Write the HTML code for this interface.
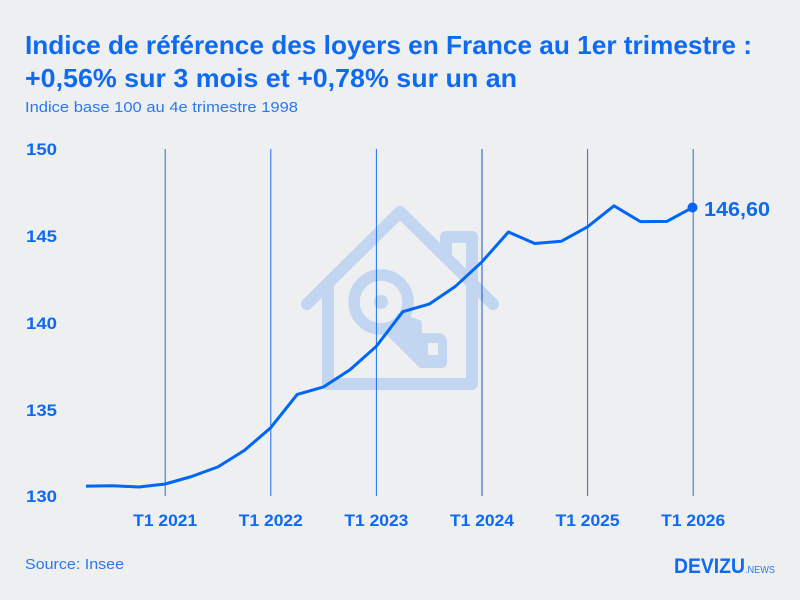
<!DOCTYPE html>
<html><head><meta charset="utf-8"><style>
html,body{margin:0;padding:0;background:#edeff1;}
svg{display:block;}
text{font-family:"Liberation Sans",sans-serif;}
</style></head><body>
<svg width="800" height="600" viewBox="0 0 800 600" xmlns="http://www.w3.org/2000/svg">
<rect width="800" height="600" fill="#edeff1"/>
<!-- title -->
<text x="25" y="54" font-size="26" font-weight="bold" fill="#0f6af2" textLength="727" lengthAdjust="spacingAndGlyphs">Indice de référence des loyers en France au 1er trimestre :</text>
<text x="25" y="87" font-size="26" font-weight="bold" fill="#0f6af2" textLength="492" lengthAdjust="spacingAndGlyphs">+0,56% sur 3 mois et +0,78% sur un an</text>
<text x="25" y="112" font-size="15" fill="#2a78ee" textLength="273" lengthAdjust="spacingAndGlyphs">Indice base 100 au 4e trimestre 1998</text>

<!-- house watermark -->
<g fill="none" stroke="#c2d6f1" stroke-width="12" stroke-linecap="round" stroke-linejoin="round">
<polyline points="307,304 400,212 493,304"/>
<polyline points="328,284 328,384 472,384 472,237 446,237 446,256"/>
<circle cx="381" cy="302" r="27" stroke-width="11.5"/>
</g>
<path d="M398 313 L420 320 Q422 321 422 324 L422 333 L437 333 Q447 333 447 343 L447 362 Q447 368 441 368 L420 368 L386 334 Z" fill="#c2d6f1"/>
<rect x="428" y="343" width="10" height="12" fill="#edeff1"/>
<circle cx="381" cy="302" r="7" fill="#c2d6f1"/>

<!-- vertical grid lines -->
<g stroke="#1a6ef0" stroke-width="1">
<line x1="165.2" y1="149" x2="165.2" y2="496"/>
<line x1="270.8" y1="149" x2="270.8" y2="496"/>
<line x1="376.4" y1="149" x2="376.4" y2="496"/>
<line x1="482" y1="149" x2="482" y2="496" stroke="#1557c8"/>
<line x1="587.6" y1="149" x2="587.6" y2="496"/>
<line x1="693.2" y1="149" x2="693.2" y2="496"/>
</g>

<!-- y labels -->
<g font-size="17" font-weight="bold" fill="#0f6af2">
<text x="26" y="155" textLength="31" lengthAdjust="spacingAndGlyphs">150</text>
<text x="26" y="242" textLength="31" lengthAdjust="spacingAndGlyphs">145</text>
<text x="26" y="329" textLength="31" lengthAdjust="spacingAndGlyphs">140</text>
<text x="26" y="416" textLength="31" lengthAdjust="spacingAndGlyphs">135</text>
<text x="26" y="502" textLength="31" lengthAdjust="spacingAndGlyphs">130</text>
</g>

<!-- x labels -->
<g font-size="17" font-weight="bold" fill="#0f6af2">
<text x="133.2" y="526" textLength="64" lengthAdjust="spacingAndGlyphs">T1 2021</text>
<text x="238.8" y="526" textLength="64" lengthAdjust="spacingAndGlyphs">T1 2022</text>
<text x="344.4" y="526" textLength="64" lengthAdjust="spacingAndGlyphs">T1 2023</text>
<text x="450" y="526" textLength="64" lengthAdjust="spacingAndGlyphs">T1 2024</text>
<text x="555.6" y="526" textLength="64" lengthAdjust="spacingAndGlyphs">T1 2025</text>
<text x="661.2" y="526" textLength="64" lengthAdjust="spacingAndGlyphs">T1 2026</text>
</g>

<!-- data line -->
<polyline fill="none" stroke="#0066f5" stroke-width="3" stroke-linejoin="round" stroke-linecap="butt"
points="86,486.1 112.4,485.7 138.8,487.0 165.2,484.0 191.6,476.5 218,466.9 244.4,450.4 270.8,427.6 297.2,394.4 323.6,386.9 350,369.7 376.4,346.2 402.8,311.7 429.2,304.1 455.6,286.2 482,261.8 508.4,232.0 534.8,243.5 561.2,241.3 587.6,226.8 614,205.8 640.4,221.6 666.8,221.4 693.2,207.2"/>
<circle cx="692.5" cy="207.5" r="5" fill="#0066f5"/>
<text x="704" y="216" font-size="20" font-weight="bold" fill="#0f6af2" textLength="66" lengthAdjust="spacingAndGlyphs">146,60</text>

<!-- footer -->
<text x="25" y="569" font-size="15" fill="#2a78ee" textLength="99" lengthAdjust="spacingAndGlyphs">Source: Insee</text>
<text x="674" y="573" font-size="21" font-weight="bold" fill="#0f6af2" textLength="71" lengthAdjust="spacingAndGlyphs">DEVIZU</text>
<text x="745" y="573" font-size="10" fill="#2a78ee" textLength="30" lengthAdjust="spacingAndGlyphs">.NEWS</text>
</svg>
</body></html>
